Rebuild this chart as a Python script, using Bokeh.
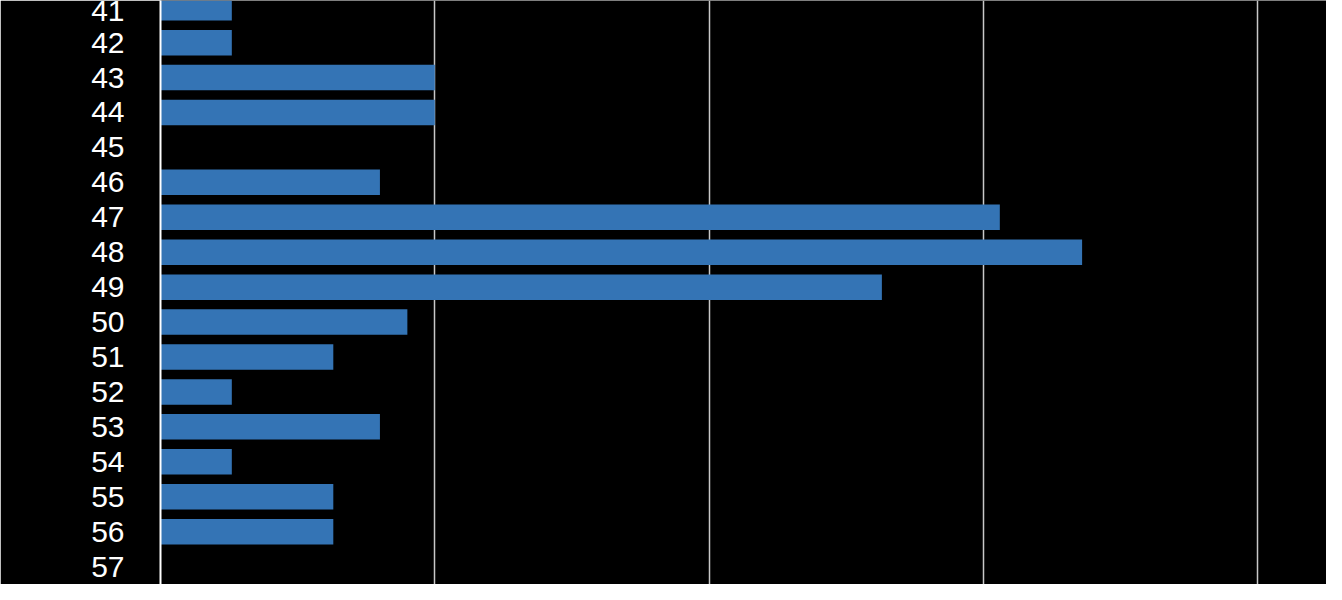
from bokeh.plotting import figure
from bokeh.models import ColumnDataSource, Range1d, FixedTicker
from bokeh.embed import file_html
from bokeh.resources import INLINE

# Data
categories = [41, 42, 43, 44, 45, 46, 47, 48, 49, 50, 51, 52, 53, 54, 55, 56, 57, 58]
values = [0.26, 0.26, 1.0, 1.0, 0.0, 0.80, 3.06, 3.36, 2.63, 0.90, 0.63, 0.26, 0.80, 0.26, 0.63, 0.63, 0.0, 0.63]
grid_ticks = [0, 1, 2, 3, 4]

source = ColumnDataSource(data=dict(cat=categories, val=values))

p = figure(
    width=1326, height=584,
    output_backend="svg", toolbar_location=None,
    x_range=Range1d(0, 4.251),
    y_range=Range1d(57.513, 40.794),
    min_border_left=160, min_border_right=0, min_border_top=0, min_border_bottom=0,
)

p.background_fill_color = "black"
p.border_fill_color = "black"
p.outline_line_color = None

p.hbar(y="cat", right="val", left=0, height=0.73, source=source,
       fill_color="#3474B5", line_color=None)

p.xaxis.visible = False
p.xgrid.ticker = FixedTicker(ticks=grid_ticks)
p.xgrid.grid_line_color = "#c8c8c8"
p.xgrid.grid_line_width = 1.5
p.ygrid.grid_line_color = None

yax = p.yaxis[0]
yax.ticker = FixedTicker(ticks=categories)
yax.axis_line_color = "white"
yax.axis_line_width = 2
yax.major_tick_line_color = None
yax.minor_tick_line_color = None
yax.major_tick_out = 0
yax.major_tick_in = 0
yax.major_label_standoff = 36
yax.major_label_text_color = "white"
yax.major_label_text_font = "Liberation Sans"
yax.major_label_text_font_size = "30px"

open("out.html", "w").write(file_html(p, INLINE))
